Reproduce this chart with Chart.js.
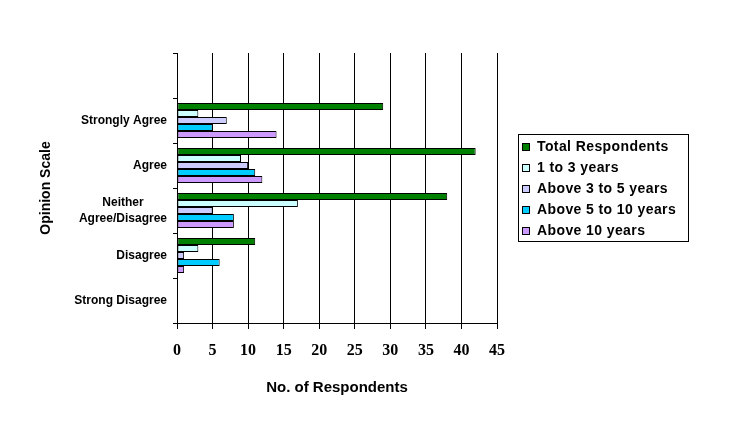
<!DOCTYPE html>
<html><head><meta charset="utf-8">
<script src="https://cdn.jsdelivr.net/npm/chart.js@4"></script>
<style>html,body{margin:0;padding:0;background:#fff}#wrap{width:731px;height:440px}</style>
</head><body><div id="wrap"><canvas id="c" width="731" height="440"></canvas></div>
<script>
const categories = ['', 'Strongly Agree', 'Agree', ['Neither       ', 'Agree/Disagree'], 'Disagree', 'Strong Disagree'];
const seriesNames = ['Total Respondents', '1 to 3 years', 'Above 3 to 5 years', 'Above 5 to 10 years', 'Above 10 years'];
const totalRespondents = [null, 29, 42, 38, 11, 0];
const years1to3 = [null, 3, 9, 17, 3, 0];
const years3to5 = [null, 7, 10, 5, 1, 0];
const years5to10 = [null, 5, 11, 8, 6, 0];
const years10plus = [null, 14, 12, 8, 1, 0];
const xTicks = [0, 5, 10, 15, 20, 25, 30, 35, 40, 45];

const colors = ['#008000', '#CCFFFF', '#CCCCFF', '#00CCFF', '#CC99FF'];
const seriesData = [totalRespondents, years1to3, years3to5, years5to10, years10plus];

const whiteBg = {
  id: 'whiteBg',
  beforeDraw(chart) {
    const c = chart.ctx;
    c.save(); c.fillStyle = '#fff'; c.fillRect(0, 0, chart.width, chart.height); c.restore();
  }
};

const boxLegend = {
  id: 'boxLegend',
  afterDraw(chart) {
    const c = chart.ctx;
    c.save();
    c.strokeStyle = '#000'; c.lineWidth = 1;
    c.strokeRect(518.5, 134.5, 170, 107);
    c.font = 'bold 14px "Liberation Sans", Arial, sans-serif';
    try { c.letterSpacing = '0.4px'; } catch (e) {}
    c.textBaseline = 'middle';
    c.textAlign = 'left';
    chart.data.datasets.forEach((ds, i) => {
      const cy = 147 + i * 21.1;
      c.fillStyle = ds.backgroundColor;
      c.fillRect(522, Math.round(cy - 4), 8, 8);
      c.strokeStyle = '#000';
      c.strokeRect(522.5, Math.round(cy - 4) + 0.5, 7, 7);
      c.fillStyle = '#000';
      c.fillText(ds.label, 537, cy);
    });
    c.restore();
  }
};

new Chart(document.getElementById('c'), {
  type: 'bar',
  data: {
    labels: categories,
    datasets: seriesNames.map((name, i) => ({
      label: name,
      data: seriesData[i],
      backgroundColor: colors[i],
      borderColor: '#000',
      borderWidth: 1,
      borderSkipped: false,
      barPercentage: 1,
      categoryPercentage: 0.78
    }))
  },
  options: {
    indexAxis: 'y',
    responsive: false,
    animation: false,
    layout: { padding: { left: 0, top: 53, right: 234, bottom: 30 } },
    plugins: { legend: { display: false }, tooltip: { enabled: false } },
    scales: {
      x: {
        min: 0, max: 45,
        afterBuildTicks: s => { s.ticks = xTicks.map(v => ({ value: v })); },
        ticks: { font: { family: '"Liberation Serif", "Times New Roman", serif', size: 16, weight: 'bold' }, color: '#000', padding: 12, maxRotation: 0, autoSkip: false },
        grid: { color: '#000', lineWidth: 1, tickLength: 6 },
        border: { color: '#000', width: 1 },
        title: { display: true, text: 'No. of Respondents', font: { family: '"Liberation Sans", Arial, sans-serif', size: 15, weight: 'bold' }, color: '#000', padding: { top: 0, bottom: 13 } },
        afterFit: s => { s.height = 87; }
      },
      y: {
        ticks: { font: { family: '"Liberation Sans", Arial, sans-serif', size: 12, weight: 'bold', lineHeight: 1.3 }, color: '#000', padding: 6, autoSkip: false },
        grid: { drawOnChartArea: false, color: '#000', tickLength: 4, offset: true },
        border: { color: '#000', width: 1 },
        title: { display: true, text: 'Opinion Scale', font: { family: '"Liberation Sans", Arial, sans-serif', size: 14, weight: 'bold' }, color: '#000', padding: { top: 38, bottom: 0 } },
        afterFit: s => { s.width = 177; }
      }
    }
  },
  plugins: [whiteBg, boxLegend]
});
</script></body></html>
